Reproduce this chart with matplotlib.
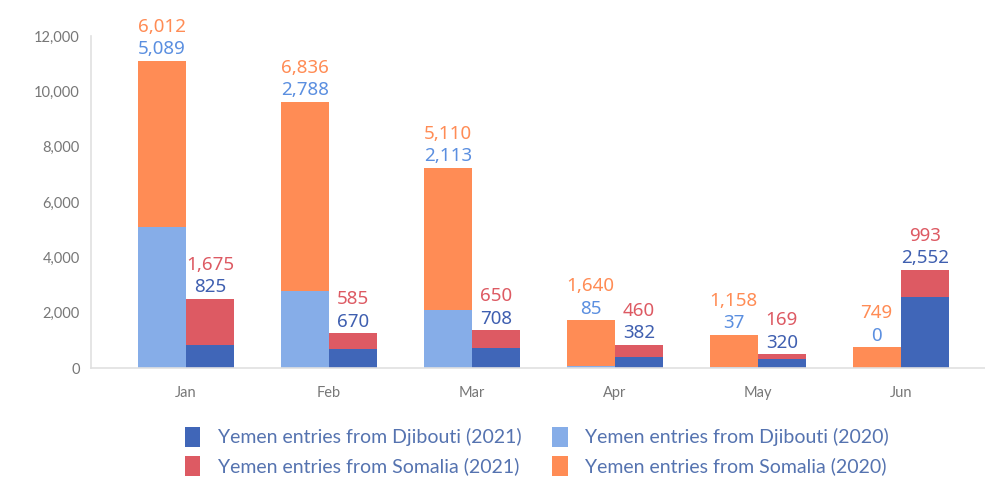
"""Yemen entries from Djibouti and Somalia, 2020 vs 2021, stacked by month."""

import matplotlib.pyplot as plt
import numpy as np

months = ["Jan", "Feb", "Mar", "Apr", "May", "Jun"]
djibouti_2020 = [5089, 2788, 2113, 85, 37, 0]
somalia_2020 = [6012, 6836, 5110, 1640, 1158, 749]
djibouti_2021 = [825, 670, 708, 382, 320, 2552]
somalia_2021 = [1675, 585, 650, 460, 169, 993]

C_DJ21 = "#4066b8"
C_DJ20 = "#86ade8"
C_SO21 = "#dd5a63"
C_SO20 = "#ff8c55"
LBL_DJ20 = "#5b8fe0"
LBL_DJ21 = "#3f5fb0"

fig = plt.figure(figsize=(9.85, 4.8), dpi=100)
ax = fig.add_axes([0.0924, 0.2333, 0.9076, 0.6917])

x = np.arange(len(months))
w = 0.336

ax.bar(x - w / 2, djibouti_2020, w, color=C_DJ20, label="Yemen entries from Djibouti (2020)")
ax.bar(x - w / 2, somalia_2020, w, bottom=djibouti_2020, color=C_SO20, label="Yemen entries from Somalia (2020)")
ax.bar(x + w / 2, djibouti_2021, w, color=C_DJ21, label="Yemen entries from Djibouti (2021)")
ax.bar(x + w / 2, somalia_2021, w, bottom=djibouti_2021, color=C_SO21, label="Yemen entries from Somalia (2021)")

lbl_font = dict(family="Noto Sans", fontsize=13.5, fontweight="medium", ha="center", va="bottom",
                textcoords="offset points", annotation_clip=False)
for i in range(len(months)):
    top20 = djibouti_2020[i] + somalia_2020[i]
    top21 = djibouti_2021[i] + somalia_2021[i]
    ax.annotate(f"{djibouti_2020[i]:,}", (x[i] - w / 2, top20), xytext=(0, 2), color=LBL_DJ20, **lbl_font)
    ax.annotate(f"{somalia_2020[i]:,}", (x[i] - w / 2, top20), xytext=(0, 18), color=C_SO20, **lbl_font)
    ax.annotate(f"{djibouti_2021[i]:,}", (x[i] + w / 2, top21), xytext=(0, 2), color=LBL_DJ21, **lbl_font)
    ax.annotate(f"{somalia_2021[i]:,}", (x[i] + w / 2, top21), xytext=(0, 18), color=C_SO21, **lbl_font)

ax.set_xlim(-0.664, 5.59)
ax.set_ylim(0, 12000)
ax.set_yticks(range(0, 12001, 2000))
ax.set_yticklabels([f"{v:,}" for v in range(0, 12001, 2000)])
ax.set_xticks(x)
ax.set_xticklabels(months)

for side in ["top", "right"]:
    ax.spines[side].set_visible(False)
for side in ["left", "bottom"]:
    ax.spines[side].set_color("#e0e0e0")
    ax.spines[side].set_linewidth(1.2)
ax.tick_params(axis="both", length=0, labelcolor="#777777", labelsize=10.5)
ax.tick_params(axis="x", pad=13)
ax.tick_params(axis="y", pad=8)
for t in ax.get_xticklabels() + ax.get_yticklabels():
    t.set_family("Lato")

handles, labels = ax.get_legend_handles_labels()
order = [2, 3, 0, 1]
leg = fig.legend([handles[k] for k in order], [labels[k] for k in order],
                 loc="center", bbox_to_anchor=(0.545, 0.06), ncol=2, frameon=False,
                 prop={"family": "Lato", "size": 14}, handlelength=0.8,
                 handleheight=1.2, handletextpad=0.9, columnspacing=1.6, labelspacing=0.45)
for t in leg.get_texts():
    t.set_color("#5573b0")

fig.savefig("out.png", dpi=100)
